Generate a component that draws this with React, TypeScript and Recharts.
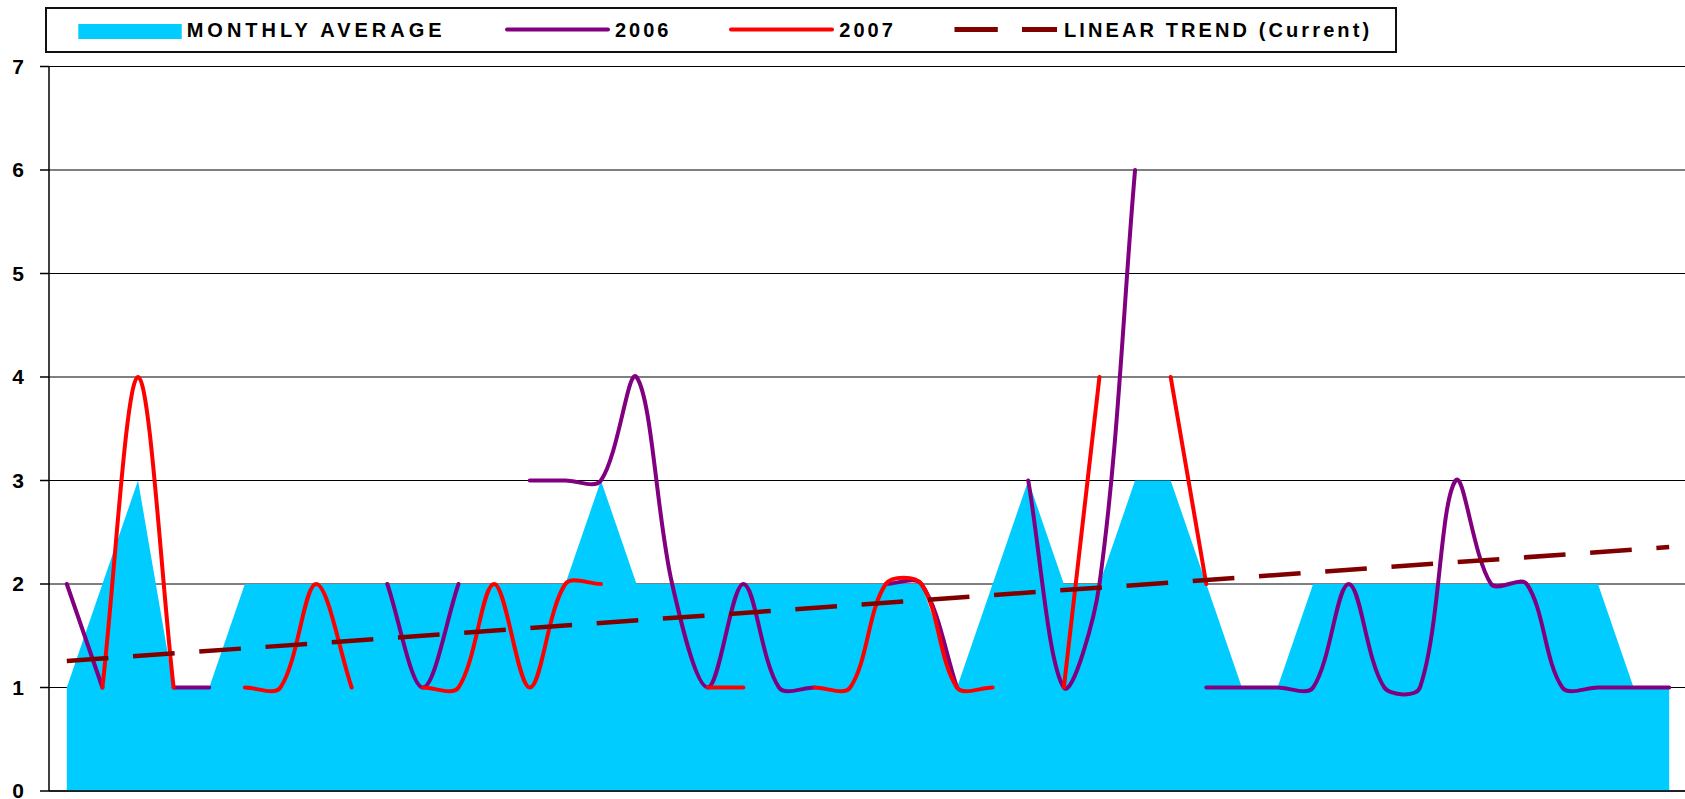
import React from 'react';
import { ComposedChart, Area, Line, XAxis, YAxis, CartesianGrid } from 'recharts';

// 46 weekly categories (labels fall below the visible frame)
const weeks = [
  1, 2, 3, 4, 5, 6, 7, 8, 9, 10, 11, 12, 13, 14, 15, 16, 17, 18, 19, 20, 21, 22, 23,
  24, 25, 26, 27, 28, 29, 30, 31, 32, 33, 34, 35, 36, 37, 38, 39, 40, 41, 42, 43, 44, 45, 46,
];

const monthlyAverage = [
  1, 2, 3, 1, 1, 2, 2, 2, 2, 2, 2, 2, 2, 2, 2, 3, 2, 2, 2, 2, 2, 2, 2, 2, 2, 1, 2, 3, 2, 2, 3, 3,
  2, 1, 1, 2, 2, 2, 2, 2, 2, 2, 2, 2, 1, 1,
];

const series2006 = [
  2, 1, null, 1, 1, null, null, null, null, 2, 1, 2, null, 3, 3, 3, 4, 2, 1, 2, 1, 1, null, 2, 2, 1,
  null, 3, 1, 2, 6, null, 1, 1, 1, 1, 2, 1, 1, 3, 2, 2, 1, 1, 1, 1,
];

const series2007 = [
  null, 1, 4, 1, null, 1, 1, 2, 1, null, 1, 1, 2, 1, 2, 2, null, null, 1, 1, null, 1, 1, 2, 2, 1,
  1, null, 1, 4, null, 4, 2, null, null, null, null, null, null, null, null, null, null, null, null, null,
];

// linear trend end values (first and last category)
const trendStart = 1.256;
const trendEnd = 2.357;

const yTicks = [0, 1, 2, 3, 4, 5, 6, 7];

const rows = weeks.map((w, i) => ({
  idx: i,
  week: w,
  avg: monthlyAverage[i],
  y2006: series2006[i],
  y2007: series2007[i],
  trend: i === 0 ? trendStart : i === weeks.length - 1 ? trendEnd : null,
}));

const xTicks = weeks.map((_, i) => i - 0.5).concat([weeks.length - 0.5]);

// Excel-like smoothed line: Bezier with chord-length scaled tangents
const excelSmooth = (context: any) => {
  let pts: number[][] = [];
  const dist = (a: number[], b: number[]) => Math.hypot(b[0] - a[0], b[1] - a[1]);
  return {
    areaStart() {},
    areaEnd() {},
    lineStart() {
      pts = [];
    },
    point(x: number, y: number) {
      pts.push([+x, +y]);
    },
    lineEnd() {
      const n = pts.length;
      if (!n) return;
      context.moveTo(pts[0][0], pts[0][1]);
      if (n === 1) {
        context.lineTo(pts[0][0], pts[0][1]);
        return;
      }
      for (let i = 0; i < n - 1; i++) {
        const p0 = pts[Math.max(i - 1, 0)];
        const p1 = pts[i];
        const p2 = pts[i + 1];
        const p3 = pts[Math.min(i + 2, n - 1)];
        const d01 = dist(p0, p1);
        const d12 = dist(p1, p2);
        const d23 = dist(p2, p3);
        const f1 = d01 + d12 > 0 ? d12 / (3 * (d01 + d12)) : 0;
        const f2 = d12 + d23 > 0 ? d12 / (3 * (d12 + d23)) : 0;
        context.bezierCurveTo(
          p1[0] + (p2[0] - p0[0]) * f1,
          p1[1] + (p2[1] - p0[1]) * f1,
          p2[0] - (p3[0] - p1[0]) * f2,
          p2[1] - (p3[1] - p1[1]) * f2,
          p2[0],
          p2[1]
        );
      }
    },
  };
};

const FONT = '"Liberation Sans", Arial, Helvetica, sans-serif';
const CYAN = '#00CCFF';
const PURPLE = '#800080';
const RED = '#FF0000';
const DARKRED = '#800000';

const legendText = (spacing: number): React.CSSProperties => ({
  fontFamily: FONT,
  fontWeight: 'bold',
  fontSize: 20,
  letterSpacing: spacing,
});

const YTick = (props: any) => {
  const { x, y, payload } = props;
  return (
    <text
      x={x}
      y={y}
      dy={7}
      textAnchor="end"
      fill="#000"
      style={{ fontFamily: FONT, fontSize: 21, fontWeight: 'bold' }}
    >
      {payload.value}
    </text>
  );
};

const LegendBox = () => (
  <svg width={1685} height={60} style={{ position: 'absolute', left: 0, top: 0 }}>
    <rect x={46} y={8} width={1350} height={44} fill="#fff" stroke="#111" strokeWidth={2} />
    <rect x={78.3} y={24} width={103.4} height={15} fill={CYAN} />
    <text x={186.7} y={37.3} style={legendText(4)} fill="#000">
      MONTHLY AVERAGE
    </text>
    <line x1={507} x2={608} y1={29.5} y2={29.5} stroke={PURPLE} strokeWidth={4} strokeLinecap="round" />
    <text x={615} y={37.3} style={legendText(3)} fill="#000">
      2006
    </text>
    <line x1={731} x2={832} y1={29.5} y2={29.5} stroke={RED} strokeWidth={4} strokeLinecap="round" />
    <text x={839.3} y={37.3} style={legendText(3)} fill="#000">
      2007
    </text>
    <line
      x1={954.5}
      x2={1057}
      y1={29.5}
      y2={29.5}
      stroke={DARKRED}
      strokeWidth={5}
      strokeDasharray="43.3 24.2"
    />
    <text x={1064} y={37.3} style={legendText(3.1)} fill="#000">
      LINEAR TREND (Current)
    </text>
  </svg>
);

export default function App() {
  return (
    <div
      style={{
        position: 'absolute',
        left: 0,
        top: 0,
        width: 1685,
        height: 799,
        overflow: 'hidden',
        background: '#fff',
      }}
    >
      <ComposedChart
        width={1687}
        height={830}
        data={rows}
        margin={{ top: 66.5, right: 0, bottom: 0, left: 0 }}
      >
        <CartesianGrid vertical={false} stroke="#000" strokeWidth={1} />
        <XAxis
          dataKey="idx"
          type="number"
          domain={[-0.5, weeks.length - 0.5]}
          ticks={xTicks}
          interval={0}
          tick={false}
          tickSize={10}
          height={39}
          allowDecimals
          axisLine={{ stroke: '#000', strokeWidth: 1.5 }}
          tickLine={{ stroke: '#000', strokeWidth: 1.5 }}
        />
        <YAxis
          type="number"
          domain={[0, 7]}
          ticks={yTicks}
          interval={0}
          width={49}
          tickSize={9}
          tickMargin={16}
          axisLine={{ stroke: '#000', strokeWidth: 1.5 }}
          tickLine={{ stroke: '#000', strokeWidth: 1.5 }}
          tick={<YTick />}
        />
        <Area
          type="linear"
          dataKey="avg"
          fill={CYAN}
          fillOpacity={1}
          stroke="none"
          isAnimationActive={false}
        />
        <Line
          type={excelSmooth as any}
          dataKey="y2006"
          stroke={PURPLE}
          strokeWidth={4}
          strokeLinecap="round"
          strokeLinejoin="round"
          dot={false}
          activeDot={false}
          connectNulls={false}
          isAnimationActive={false}
        />
        <Line
          type={excelSmooth as any}
          dataKey="y2007"
          stroke={RED}
          strokeWidth={4}
          strokeLinecap="round"
          strokeLinejoin="round"
          dot={false}
          activeDot={false}
          connectNulls={false}
          isAnimationActive={false}
        />
        <Line
          type="linear"
          dataKey="trend"
          stroke={DARKRED}
          strokeWidth={4.5}
          strokeDasharray="41.7 24.7"
          dot={false}
          activeDot={false}
          connectNulls
          isAnimationActive={false}
        />
      </ComposedChart>
      <LegendBox />
    </div>
  );
}
